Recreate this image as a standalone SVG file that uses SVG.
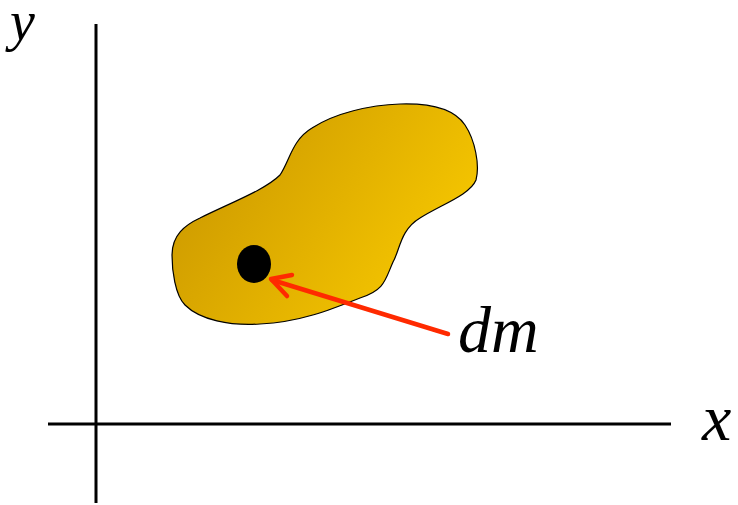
<svg xmlns="http://www.w3.org/2000/svg" width="738" height="505" viewBox="0 0 738 505">
<defs>
<linearGradient id="gold" x1="200" y1="170" x2="420" y2="320" gradientUnits="userSpaceOnUse">
<stop offset="0" stop-color="#cf9c00"/>
<stop offset="1" stop-color="#f7c800"/>
</linearGradient>
</defs>
<style>
.axis{stroke:#000;stroke-width:3;fill:none}
.lbl{font-family:'Liberation Serif','Times New Roman',serif;font-style:italic;font-size:66px;fill:#000}
.arrow{stroke:#ff2a00;stroke-width:4.5;fill:none;stroke-linecap:round;stroke-linejoin:round}
</style>
<g id="axes">
<line class="axis" x1="96" y1="24" x2="96" y2="503"/>
<line class="axis" x1="48" y1="424" x2="671" y2="424"/>
<text class="lbl" x="10" y="40" style="font-size:56px">y</text>
<text class="lbl" x="702" y="440">x</text>
</g>
<g id="body">
<path d="M172,255 C172,235 185,225 200,218 C230,203 265,190 280,175 C290,160 292,140 312,128 C335,113 370,105 400,104 C432,103 455,110 465,125 C475,140 480,165 476,180 C470,195 440,205 420,218 C400,230 400,250 393,262 C385,280 385,290 360,298 C330,310 300,322 260,324 C230,326 200,320 185,305 C175,295 172,270 172,255 Z" fill="url(#gold)" stroke="#000" stroke-width="1.2"/>
<ellipse cx="254" cy="264" rx="17" ry="19" fill="#000"/>
</g>
<g id="connectors">
<line class="arrow" x1="448" y1="334" x2="272" y2="280"/>
<polyline class="arrow" points="292,275 271,279 287,296"/>
</g>
<g id="label">
<text class="lbl" x="458" y="352">dm</text>
</g>
</svg>
